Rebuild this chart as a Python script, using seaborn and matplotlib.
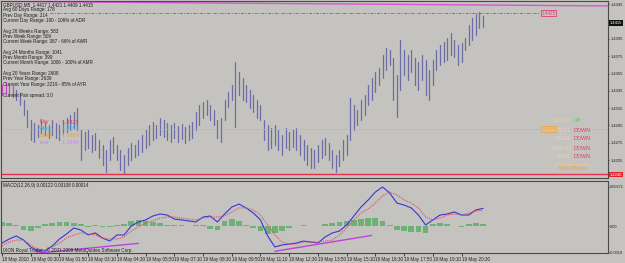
import numpy as np
import pandas as pd
import matplotlib
matplotlib.use("Agg")
import matplotlib.pyplot as plt
import seaborn as sns

# ---------------- data ----------------
header = "GBPUSD,M5  1.4417 1.4421 1.4409 1.4415"
info_lines = [
    "Avg 60 Days Range: 178", "Prev Day Range: 214", "Current Day Range: 190 - 106% of ADR",
    "Avg 26 Weeks Range: 583", "Prev Week Range: 509", "Current Week Range: 387 - 66% of AWR",
    "Avg 24 Months Range: 1041", "Prev Month Range: 399", "Current Month Range: 1006 - 100% of AMR",
    "Avg 20 Years Range: 2608", "Prev Year Range: 2639", "Current Year Range: 2219 - 85% of AYR",
    "Current Pair spread: 3.0",
]
pivot_names = ["Day", "Week", "Month", "Year"]
pivot_values = ["1.4425", "1.4553", "1.4809", "1.3349"]
move_names = ["TODAY", "PDAY", "WEEK", "MONTH", "YEAR"]
move_dirs = ["UP", "DOWN", "DOWN", "DOWN", "DOWN"]

highs = [1.4342, 1.4345, 1.4343, 1.4341, 1.4336, 1.4332, 1.4324, 1.4313, 1.4301, 1.4298,
         1.4296, 1.4301, 1.4299, 1.4296, 1.4301, 1.4298, 1.4296, 1.4301, 1.4304, 1.4307,
         1.4311, 1.4315, 1.4290, 1.4287, 1.4290, 1.4284, 1.4286, 1.4278, 1.4272, 1.4267,
         1.4278, 1.4282, 1.4272, 1.4267, 1.4261, 1.4269, 1.4275, 1.4272, 1.4278, 1.4284,
         1.4290, 1.4296, 1.4299, 1.4296, 1.4304, 1.4301, 1.4298, 1.4296, 1.4298, 1.4294,
         1.4297, 1.4293, 1.4296, 1.4299, 1.4311, 1.4319, 1.4322, 1.4324, 1.4319, 1.4313,
         1.4301, 1.4304, 1.4324, 1.4334, 1.4342, 1.4368, 1.4357, 1.4350, 1.4342, 1.4336,
         1.4330, 1.4324, 1.4319, 1.4301, 1.4296, 1.4292, 1.4296, 1.4290, 1.4284, 1.4292,
         1.4287, 1.4290, 1.4292, 1.4284, 1.4278, 1.4272, 1.4269, 1.4267, 1.4272, 1.4278,
         1.4280, 1.4275, 1.4267, 1.4261, 1.4267, 1.4278, 1.4284, 1.4327, 1.4319, 1.4313,
         1.4324, 1.4330, 1.4342, 1.4350, 1.4357, 1.4361, 1.4376, 1.4385, 1.4382, 1.4373,
         1.4353, 1.4394, 1.4382, 1.4376, 1.4382, 1.4373, 1.4368, 1.4376, 1.4371, 1.4359,
         1.4371, 1.4382, 1.4388, 1.4391, 1.4396, 1.4402, 1.4394, 1.4388, 1.4390, 1.4396,
         1.4411, 1.4419, 1.4424, 1.4426, 1.4421]
lows = [1.4330, 1.4332, 1.4329, 1.4328, 1.4324, 1.4319, 1.4307, 1.4293, 1.4278, 1.4276,
        1.4282, 1.4286, 1.4284, 1.4280, 1.4284, 1.4280, 1.4278, 1.4285, 1.4287, 1.4290,
        1.4292, 1.4290, 1.4255, 1.4267, 1.4269, 1.4264, 1.4267, 1.4257, 1.4249, 1.4241,
        1.4255, 1.4263, 1.4255, 1.4243, 1.4240, 1.4249, 1.4255, 1.4259, 1.4261, 1.4264,
        1.4269, 1.4272, 1.4278, 1.4280, 1.4284, 1.4282, 1.4278, 1.4276, 1.4280, 1.4276,
        1.4279, 1.4275, 1.4278, 1.4280, 1.4290, 1.4296, 1.4304, 1.4307, 1.4301, 1.4296,
        1.4280, 1.4276, 1.4301, 1.4316, 1.4324, 1.4293, 1.4330, 1.4324, 1.4322, 1.4315,
        1.4311, 1.4304, 1.4301, 1.4278, 1.4267, 1.4269, 1.4272, 1.4267, 1.4261, 1.4269,
        1.4267, 1.4270, 1.4267, 1.4261, 1.4255, 1.4249, 1.4246, 1.4246, 1.4253, 1.4257,
        1.4261, 1.4255, 1.4246, 1.4241, 1.4248, 1.4255, 1.4261, 1.4278, 1.4290, 1.4296,
        1.4301, 1.4307, 1.4319, 1.4324, 1.4334, 1.4342, 1.4350, 1.4359, 1.4365, 1.4324,
        1.4305, 1.4336, 1.4353, 1.4348, 1.4357, 1.4342, 1.4336, 1.4348, 1.4330, 1.4324,
        1.4342, 1.4359, 1.4365, 1.4368, 1.4371, 1.4377, 1.4374, 1.4365, 1.4368, 1.4382,
        1.4388, 1.4394, 1.4400, 1.4408, 1.4409]

macd_main = [-0.00118, -0.00090, -0.00069, -0.00097, -0.00145, -0.00173, -0.00173, -0.00138, -0.00090, -0.00055,
             -0.00014, -0.00028, -0.00062, -0.00048, -0.00083, -0.00104, -0.00062, -0.00062, 0.00000, 0.00028,
             0.00042, 0.00069, 0.00083, 0.00076, 0.00048, 0.00042, 0.00035, 0.00028, 0.00062, 0.00069,
             0.00028, 0.00083, 0.00131, 0.00152, 0.00125, 0.00090, 0.00042, -0.00069, -0.00145, -0.00131,
             -0.00125, -0.00118, -0.00104, -0.00111, -0.00118, -0.00076, -0.00048, -0.00035, 0.00007, 0.00069,
             0.00131, 0.00180, 0.00235, 0.00270, 0.00228, 0.00159, 0.00145, 0.00125, 0.00076, 0.00007,
             0.00042, 0.00076, 0.00083, 0.00097, 0.00076, 0.00076, 0.00111, 0.00122]
macd_signal = [-0.00138, -0.00111, -0.00097, -0.00097, -0.00131, -0.00159, -0.00166, -0.00145, -0.00118, -0.00083,
               -0.00062, -0.00048, -0.00055, -0.00062, -0.00083, -0.00090, -0.00090, -0.00076, -0.00035, -0.00007,
               0.00021, 0.00035, 0.00055, 0.00062, 0.00062, 0.00055, 0.00048, 0.00042, 0.00055, 0.00062,
               0.00062, 0.00069, 0.00097, 0.00125, 0.00125, 0.00111, 0.00076, 0.00007, -0.00062, -0.00111,
               -0.00125, -0.00125, -0.00111, -0.00111, -0.00111, -0.00104, -0.00097, -0.00062, -0.00014, 0.00042,
               0.00090, 0.00118, 0.00159, 0.00208, 0.00235, 0.00215, 0.00180, 0.00159, 0.00125, 0.00062,
               0.00042, 0.00055, 0.00076, 0.00083, 0.00076, 0.00090, 0.00104, 0.00108]
osma = [0.00028, 0.00021, 0.00007, -0.00028, -0.00035, -0.00014, 0.00014, 0.00021, 0.00028, 0.00028,
        0.00021, 0.00014, -0.00007, 0.00007, -0.00007, -0.00007, 0.00007, 0.00014, 0.00035, 0.00042,
        0.00035, 0.00028, 0.00021, 0.00007, 0.00007, 0.00007, 0.00000, 0.00007, 0.00007, -0.00021,
        -0.00028, 0.00035, 0.00048, 0.00035, 0.00007, -0.00014, -0.00035, -0.00055, -0.00048, -0.00035,
        -0.00014, 0.00000, 0.00007, 0.00000, 0.00000, 0.00014, 0.00021, 0.00028, 0.00035, 0.00042,
        0.00048, 0.00055, 0.00055, 0.00035, 0.00007, -0.00028, -0.00035, -0.00042, -0.00042, -0.00048,
        0.00014, 0.00021, 0.00014, 0.00000, -0.00007, 0.00014, 0.00021, 0.00014]

time_labels = ["18 May 2010", "19 May 00:30", "19 May 01:50", "19 May 03:10", "19 May 04:30",
               "19 May 05:50", "19 May 07:10", "19 May 08:30", "19 May 09:50", "19 May 11:10",
               "19 May 12:30", "19 May 13:50", "19 May 15:10", "19 May 16:30", "19 May 17:50",
               "19 May 19:10", "19 May 20:30"]
price_ticks = [1.4435, 1.4395, 1.4375, 1.4355, 1.4335, 1.4315, 1.4295, 1.4275, 1.4255]
price_tick_labels = ["1.4435", "1.4395", "1.4375", "1.4355", "1.4335", "1.4315", "1.4295", "1.4275", "1.4255"]
macd_ticks = [0.00271, 0.0, -0.00181]
macd_tick_labels = ["0.00271", "0.00", "-0.0018"]

bid = "1.4415"
low_box = "1.4240"
trend_top = ([-0.28, 168.8], [1.44384, 1.44332])
day_low_line = 1.4239
prev_line = 1.4425
pivot_line = 1.4291
div1 = ([9, 38], [-0.00190, -0.00120])
div2 = ([76, 103], [-0.00175, -0.00065])

# ---------------- style ----------------
sns.set_theme(style="white")
plt.rcParams["font.family"] = ["Liberation Sans", "DejaVu Sans"]
BG = "#c5c3bf"
BAR = "#6c6ca6"
FS = 3.3
AFS = 3.0

W, H = 625, 263
fig = plt.figure(figsize=(W / 100, H / 100), dpi=100)
fig.patch.set_facecolor(BG)

def fx(px):
    return px / W

def fy(py):
    return 1 - py / H

ax = fig.add_axes([fx(1), fy(178), fx(607), (178 - 1) / H])
ax2 = fig.add_axes([fx(1), fy(253), fx(607), (253 - 181) / H])
for a in (ax, ax2):
    a.set_facecolor(BG)
    for s in a.spines.values():
        s.set_color("#4a4a4a")
        s.set_linewidth(0.8)
    a.set_xlim(-0.28, 168.8)

steps = np.arange(len(highs))
bars = pd.DataFrame({
    "step": np.concatenate([steps, steps]),
    "price": np.concatenate([lows, highs]),
    "bar": np.concatenate([steps, steps]),
})
first = bars[bars["bar"] < 4]
rest = bars[bars["bar"] >= 4]
sns.lineplot(data=rest, x="step", y="price", units="bar", estimator=None,
             color=BAR, lw=0.9, ax=ax, legend=False)
sns.lineplot(data=first, x="step", y="price", units="bar", estimator=None,
             color="#cc44cc", lw=0.9, ax=ax, legend=False)

ax.plot(trend_top[0], trend_top[1], color="#d455d4", lw=1.0)
ax.axhline(day_low_line, color="#e8304c", lw=1.0)
ax.axhline(pivot_line, color="#e8a456", lw=0.7, ls=(0, (1, 1.5)))
ax.plot([13.4, 149.9], [prev_line, prev_line], color="#e0407a", lw=0.7, ls=(0, (3, 1.5, 1, 1.5)))
ax.text(150.2, prev_line, "1.4425", fontsize=FS, color="#e0407a", va="center", ha="left",
        bbox=dict(boxstyle="square,pad=0.15", fc=BG, ec="#e0407a", lw=0.6))
ax.text(150.2, pivot_line, "1.4291", fontsize=FS, color="#e8a456", va="center", ha="left",
        bbox=dict(boxstyle="square,pad=0.15", fc="#e8c07a", ec="#e8a456", lw=0.6))

ax.set_ylim(1.42343, 1.44389)
ax.yaxis.tick_right()
ax.set_yticks(price_ticks)
ax.set_yticklabels(price_tick_labels)
ax.tick_params(axis="y", labelsize=AFS, length=1.0, width=0.6, pad=0.6, colors="#202020", right=True)
ax.set_xticks([])
ax.set_xlabel("")
ax.set_ylabel("")

# MACD panel
even = np.arange(0, len(highs), 2)
ax2.bar(even, osma, width=1.6, color="#5fae6a", alpha=0.85, linewidth=0)
macd_df = pd.DataFrame({"step": even, "main": macd_main, "signal": macd_signal})
sns.lineplot(data=macd_df, x="step", y="main", color="#3636d6", lw=0.8, ax=ax2)
sns.lineplot(data=macd_df, x="step", y="signal", color="#e24a5e", lw=0.8, ax=ax2,
             linestyle=(0, (1, 1)))
ax2.plot(div1[0], div1[1], color="#c040e0", lw=1.0)
ax2.plot(div2[0], div2[1], color="#c040e0", lw=1.0)
ax2.set_ylim(-0.001868, 0.003114)
ax2.yaxis.tick_right()
ax2.set_yticks(macd_ticks)
ax2.set_yticklabels(macd_tick_labels)
ax2.tick_params(axis="y", labelsize=2.8, length=1.0, width=0.6, pad=0.6, colors="#202020", right=True)
ax2.set_xticks(np.arange(0, 8 * len(time_labels), 8))
ax2.set_xticklabels(time_labels, ha="left")
ax2.tick_params(axis="x", labelsize=FS, length=2, width=0.6, pad=1.2, colors="#202020", bottom=True)
ax2.set_xlabel("")
ax2.set_ylabel("")

# texts
TXT = "#1c1c1c"
fig.text(fx(3), fy(4.5), header, fontsize=FS, color=TXT, va="center")
info_y = [10, 15.3, 20.6, 31.2, 36.5, 41.8, 52.4, 57.7, 63, 73.6, 78.9, 84.2, 95]
for yy, t in zip(info_y, info_lines):
    fig.text(fx(3), fy(yy), t, fontsize=FS, color=TXT, va="center")

piv_colors = ["#e8405a", "#38b4e6", "#e8a040", "#c88ae8"]
for i, (n, v, c) in enumerate(zip(pivot_names, pivot_values, piv_colors)):
    yy = 122 + 6.7 * i
    fig.text(fx(39), fy(yy), n, fontsize=FS + 0.6, color=c, va="center")
    fig.text(fx(59), fy(yy), ": " + v, fontsize=FS + 0.6, color=c, va="center")

for i, (n, d) in enumerate(zip(move_names, move_dirs)):
    yy = 121 + 9 * i
    fig.text(fx(571), fy(yy), n, fontsize=FS + 0.6, color="#e8d0b8", va="center", ha="right")
    fig.text(fx(574), fy(yy), d, fontsize=FS + 0.6, color="#2ee04a" if d == "UP" else "#e83c5c",
             va="center", ha="left")
fig.add_artist(plt.Line2D([fx(556), fx(591)], [fy(163.5), fy(163.5)], color="#e8c8a0", lw=0.6))
fig.text(fx(573), fy(168.5), "Main Moves", fontsize=FS + 0.4, color="#e8a040", va="center", ha="center")

fig.text(fx(3), fy(186), "MACD(12,26,9) 0.00122 0.00108 0.00014", fontsize=FS, color=TXT, va="center")
fig.text(fx(3), fy(250.5), "IXON Royal Trader - \u00a9 2001-2009 MetaQuotes Software Corp.",
         fontsize=FS, color=TXT, va="center")

fig.text(fx(609.5), fy(23), bid, fontsize=AFS, color="white", va="center", ha="left",
         bbox=dict(boxstyle="square,pad=0.2", fc="#101010", ec="none"))
fig.text(fx(609.5), fy(174.5), low_box, fontsize=AFS, color="white", va="center", ha="left",
         bbox=dict(boxstyle="square,pad=0.2", fc="#e8202c", ec="none"))

fig.savefig("out.png", dpi=100, facecolor=BG)
